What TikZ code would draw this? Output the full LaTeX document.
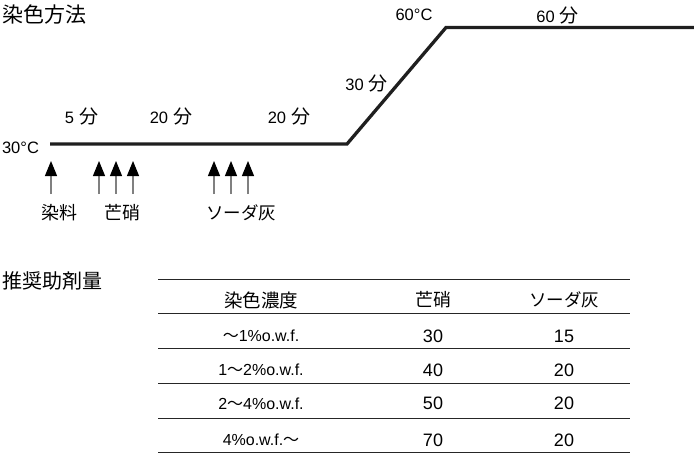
\documentclass[tikz,border=0pt]{standalone}
\usepackage{fontspec}
\setmainfont{Liberation Sans}
\newfontfamily\jp{Noto Sans CJK JP}
\usetikzlibrary{arrows.meta}
\newcommand{\jps}[2]{{\jp\fontsize{#1}{#1}\selectfont #2}}
\newcommand{\fn}[1]{#1\hspace{5pt}\jps{19}{分}}
\begin{document}
\begin{tikzpicture}[x=1pt,y=-1pt,
  lbl/.style={inner sep=0pt, font=\fontsize{16.5}{16.5}\selectfont},
  head/.style={inner sep=0pt, anchor=west},
  jlbl/.style={inner sep=0pt},
  cell/.style={inner sep=0pt, font=\fontsize{16}{16}\selectfont},
  num/.style={inner sep=0pt, font=\fontsize{18}{18}\selectfont},
  profile/.style={line width=3.3pt, draw=black!88, line join=miter},
  addarrow/.style={draw=black!50, line width=1.1pt, -{Triangle[length=15pt,width=12pt,color=black]}},
  rule/.style={draw=black!85, line width=1pt}]
\useasboundingbox (0,0) rectangle (694,455);

% titles
\node[head] (title1) at (2,15) {\jps{21}{染色方法}};
\node[head] (title2) at (2,281) {\jps{20}{推奨助剤量}};

% temperature profile
\coordinate (p0) at (50,144);
\coordinate (p1) at (347,144);
\coordinate (p2) at (446,27.5);
\coordinate (p3) at (694,27.5);
\draw[profile] (p0) -- (p1) -- (p2) -- (p3);

\node[lbl] (t30) at (20.5,148) {30°C};
\node[lbl] (m5) at (81.5,116) {\fn{5}};
\node[lbl] (m20a) at (171,116) {\fn{20}};
\node[lbl] (m20b) at (289,116) {\fn{20}};
\node[lbl] (m30) at (366.5,83) {\fn{30}};
\node[lbl] (t60) at (414,15) {60°C};
\node[lbl] (m60) at (557.5,15) {\fn{60}};

% addition arrows
\foreach \i/\x in {1/51,2/99,3/116,4/133,5/214,6/231,7/248}{
  \coordinate (ab\i) at (\x,194);
  \coordinate (at\i) at (\x,161);
  \draw[addarrow] (ab\i) -- (at\i);
}
\node[jlbl] (dye) at (59.5,213) {\jps{18}{染料}};
\node[jlbl] (salt) at (122.5,213) {\jps{18}{芒硝}};
\node[jlbl] (soda) at (241,213) {\jps{17.5}{ソーダ灰}};

% table rules
\foreach \i/\y in {0/279,1/313,2/348,3/383,4/418,5/452}{
  \coordinate (rl\i) at (158,\y);
  \coordinate (rr\i) at (630,\y);
  \draw[rule] (rl\i) -- (rr\i);
}

% table header
\node[jlbl] (h1) at (261,300) {\jps{18.5}{染色濃度}};
\node[jlbl] (h2) at (433,300) {\jps{18}{芒硝}};
\node[jlbl] (h3) at (564,300) {\jps{17.5}{ソーダ灰}};

% table body
\node[cell] (c11) at (261,336) {\jps{16}{～}1\%o.w.f.};
\node[num] (c12) at (433,336) {30};
\node[num] (c13) at (564,336) {15};
\node[cell] (c21) at (261,370) {1\jps{16}{～}2\%o.w.f.};
\node[num] (c22) at (433,370) {40};
\node[num] (c23) at (564,370) {20};
\node[cell] (c31) at (261,403.5) {2\jps{16}{～}4\%o.w.f.};
\node[num] (c32) at (433,403.5) {50};
\node[num] (c33) at (564,403.5) {20};
\node[cell] (c41) at (261,440) {4\%o.w.f.\jps{16}{～}};
\node[num] (c42) at (433,440) {70};
\node[num] (c43) at (564,440) {20};
\end{tikzpicture}
\end{document}
